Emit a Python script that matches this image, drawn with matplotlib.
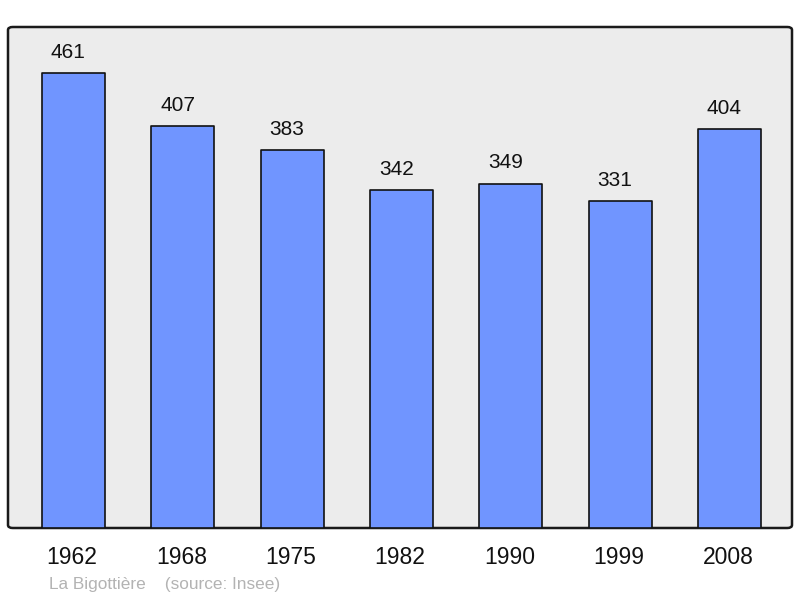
import matplotlib.pyplot as plt
from matplotlib.patches import FancyBboxPatch

years = ["1962", "1968", "1975", "1982", "1990", "1999", "2008"]
population = [461, 407, 383, 342, 349, 331, 404]

plt.rcParams['font.family'] = ['Liberation Sans', 'DejaVu Sans']

W, H = 800, 598
fig = plt.figure(figsize=(8, 5.98), dpi=100)
# axes placed over the grey box (pixels 8..792 x, 27..528 y)
ax = fig.add_axes([8 / W, 1 - 528 / H, 784 / W, 501 / H])
ax.set_xlim(-0.599, 6.572)
ax.set_ylim(0, 501 / 0.987)
ax.axis('off')

box = FancyBboxPatch((0, 0), 1, 1, boxstyle="round,pad=0,rounding_size=0.006",
                     transform=ax.transAxes, facecolor='#ececec',
                     edgecolor='#1a1a1a', linewidth=1.8, zorder=0, clip_on=False)
ax.add_patch(box)

x = list(range(len(years)))
bars = ax.bar(x, population, width=0.576, color='#7095ff', edgecolor='#111111',
              linewidth=1.2, zorder=2, joinstyle='round')

for xi, v in zip(x, population):
    ax.annotate(str(v), (xi, v), xytext=(-3.8, 15), textcoords='offset points',
                ha='center', va='center', fontsize=15, color='#111111')
    ax.annotate(years[xi], (xi, 0), xytext=(-1, -21.5), textcoords='offset points',
                ha='center', va='center', fontsize=16.5, color='#111111',
                annotation_clip=False)

fig.text(49 / W, 1 - 585 / H, "La Bigottière    (source: Insee)", fontsize=12.4,
         color='#b3b3b3', ha='left', va='center')

fig.savefig('out.png', dpi=100)
